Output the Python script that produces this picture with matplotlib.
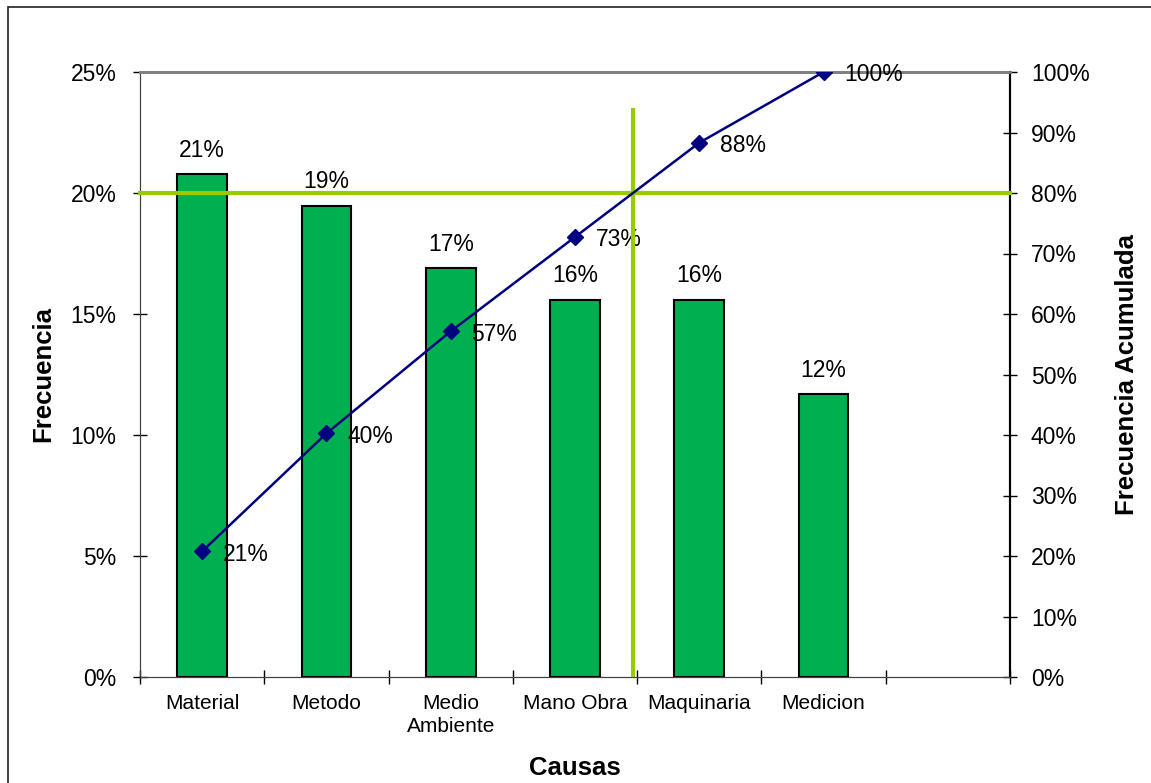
import numpy as np
import matplotlib
matplotlib.use("Agg")
import matplotlib.pyplot as plt
from matplotlib.patches import Rectangle
from matplotlib.ticker import PercentFormatter

plt.rcParams['font.family'] = ['Liberation Sans', 'DejaVu Sans']

causas = ["Material", "Metodo", "Medio\nAmbiente", "Mano Obra", "Maquinaria", "Medicion"]
conteos = [16, 15, 13, 12, 12, 9]

frecuencia = np.array(conteos) / sum(conteos) * 100
acumulada = np.cumsum(frecuencia)
corte = 80

bar_color = '#00B050'
line_color = '#000080'
ref_color = '#99CC00'

fig = plt.figure(figsize=(11.51, 7.83), dpi=100)
ax = fig.add_axes([140 / 1151, 1 - 677 / 783, 870 / 1151, 605 / 783])
ax2 = ax.twinx()

x = np.arange(len(causas))
bars = ax.bar(x, frecuencia, width=0.4, color=bar_color, edgecolor='black', linewidth=1.5, zorder=2)
for xi, v in zip(x, frecuencia):
    ax.annotate(f"{v:.0f}%", (xi, v), xytext=(0, 9), textcoords='offset points',
                ha='center', va='bottom', fontsize=16.5)

ax.set_xlim(-0.5, len(causas) + 0.5)
ax.set_ylim(0, 25)
ax.yaxis.set_major_formatter(PercentFormatter(decimals=0))
ax.set_yticks(np.arange(0, 26, 5))
ax.set_xticks(np.arange(-0.5, len(causas) + 1, 1))
ax.set_xticklabels([])
ax.set_xticks(x, minor=True)
ax.set_xticklabels(causas, minor=True, fontsize=15, va='top', linespacing=1.3)
ax.tick_params(axis='x', which='minor', length=0, pad=12)
ax.tick_params(axis='x', which='major', direction='inout', length=10, width=1)
ax.tick_params(axis='y', direction='inout', length=10, width=1, labelsize=16.5, pad=12)

ax2.set_ylim(0, 100)
ax2.set_yticks(np.arange(0, 101, 10))
ax2.yaxis.set_major_formatter(PercentFormatter(decimals=0))
ax2.tick_params(axis='y', direction='inout', length=10, width=1, labelsize=16.5, pad=10)

# Pareto cumulative curve
ax2.plot(x, acumulada, color=line_color, linewidth=1.8, marker='D', markersize=8, zorder=4)
for xi, v in zip(x, acumulada):
    ax2.annotate(f"{v:.0f}%", (xi, v), xytext=(15, -2), textcoords='offset points',
                 ha='left', va='center', fontsize=16.5)

# 80% cut-off lines
i = np.searchsorted(acumulada, corte)
x_corte = x[i - 1] + (corte - acumulada[i - 1]) / (acumulada[i] - acumulada[i - 1])
ax2.axhline(corte, color=ref_color, linewidth=3, zorder=3, clip_on=False)
ax2.plot([x_corte, x_corte], [0, 93.7], color=ref_color, linewidth=3, zorder=3)

for a in (ax, ax2):
    a.spines['top'].set_color('#808080')
    a.spines['top'].set_linewidth(2)
    a.spines['left'].set_color('#404040')
    a.spines['bottom'].set_color('#404040')
    a.spines['right'].set_color('black')
    a.spines['right'].set_linewidth(1.5)

ax.set_xlabel("Causas", fontsize=18.5, fontweight='bold', labelpad=14)
ax.set_ylabel("Frecuencia", fontsize=18.5, fontweight='bold', labelpad=11)
ax2.set_ylabel("Frecuencia Acumulada", fontsize=18.5, fontweight='bold', labelpad=18)

fig.patches.append(Rectangle((8 / 1151, -0.1), 1.2, 1.1 - 7 / 783, transform=fig.transFigure,
                             fill=False, edgecolor='#202020', linewidth=1.2))

fig.savefig("out.png", dpi=100)
